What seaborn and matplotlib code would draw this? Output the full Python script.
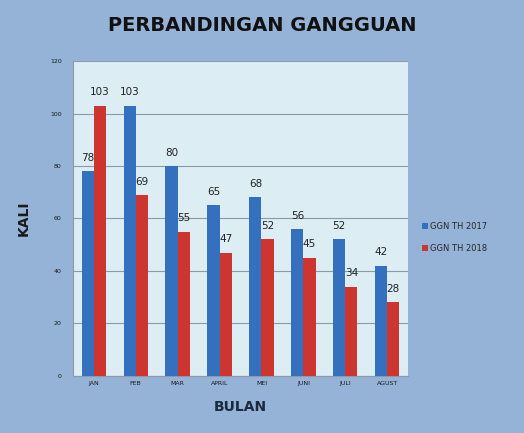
import matplotlib
matplotlib.use("Agg")
import matplotlib.pyplot as plt
import seaborn as sns
import pandas as pd

bulan = ["JAN", "FEB", "MAR", "APRIL", "MEI", "JUNI", "JULI", "AGUST"]
ggn_2017 = [78, 103, 80, 65, 68, 56, 52, 42]
ggn_2018 = [103, 69, 55, 47, 52, 45, 34, 28]
seri = ["GGN TH 2017", "GGN TH 2018"]

df = pd.DataFrame({
    "bulan": bulan * 2,
    "kali": ggn_2017 + ggn_2018,
    "seri": [seri[0]] * len(bulan) + [seri[1]] * len(bulan),
})

bg = "#95b3d7"
sns.set_style("white")
plt.rcParams["font.family"] = ["DejaVu Sans"]

fig = plt.figure(figsize=(5.24, 4.33), dpi=100, facecolor=bg)
ax = fig.add_axes([0.139, 0.132, 0.640, 0.727])
ax.set_facecolor("#dcedf4")

sns.barplot(data=df, x="bulan", y="kali", hue="seri", order=bulan,
            palette=["#3470bd", "#cc3530"], saturation=1, width=0.58, gap=0,
            edgecolor="none", ax=ax, zorder=3)

for cont in ax.containers:
    ax.bar_label(cont, fontsize=7.5, color="#222222", padding=6)

ax.set_ylim(0, 120)
ax.set_yticks(range(0, 121, 20))
ax.yaxis.grid(True, color="#8a9aa6", lw=0.8, zorder=0)
ax.tick_params(axis="both", labelsize=4.5, length=0, colors="#1a1a1a")
ax.tick_params(axis="y", pad=8)
for s in ["top", "right"]:
    ax.spines[s].set_visible(False)
ax.spines["left"].set_color("#8a9aa6")
ax.spines["bottom"].set_color("#8a9aa6")

ax.set_xlabel("BULAN", fontsize=10, fontweight="bold", color="#1a2a40", labelpad=10)
ax.set_ylabel("KALI", fontsize=10, fontweight="bold", color="#1a1a1a", labelpad=14)

fig.text(0.5, 0.94, "PERBANDINGAN GANGGUAN", ha="center", va="center",
         fontsize=14, fontweight="bold", color="#111111")

ax.legend(loc="center left", bbox_to_anchor=(1.02, 0.44), frameon=False,
          fontsize=6, handlelength=0.7, handleheight=0.7, handletextpad=0.2,
          labelspacing=1.6)

fig.savefig("out.png", dpi=100, facecolor=bg)
